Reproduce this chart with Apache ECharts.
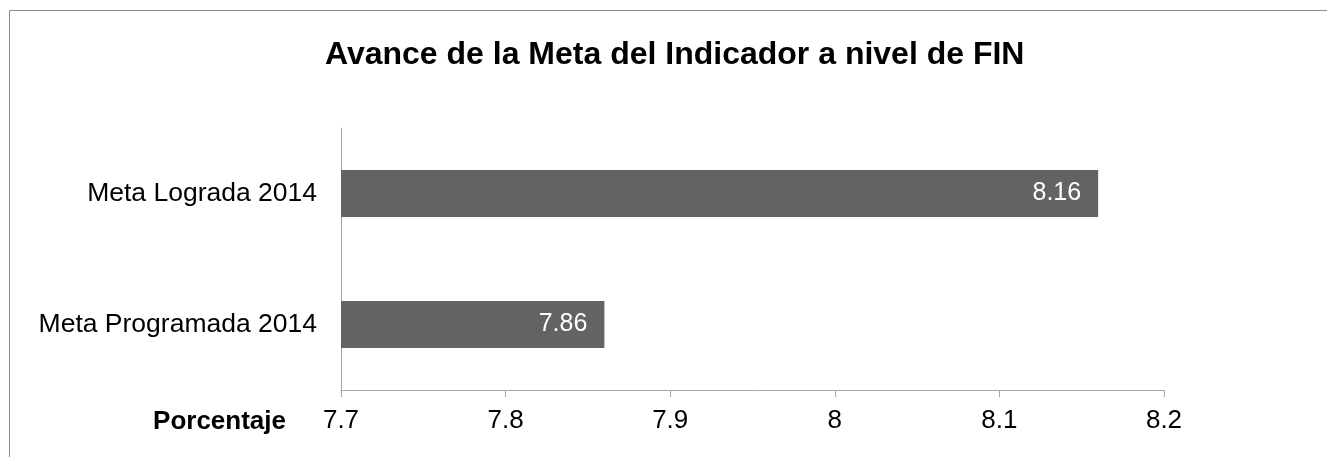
<!DOCTYPE html>
<html>
<head>
<meta charset="utf-8">
<script src="https://cdn.jsdelivr.net/npm/echarts@6/dist/echarts.min.js"></script>
<style>
  html, body { margin: 0; padding: 0; background: #fff; }
  #chart { width: 1327px; height: 457px; }
</style>
</head>
<body>
<div id="chart"></div>
<script>
  // categories bottom -> top
  const categories = ['Meta Programada 2014', 'Meta Lograda 2014']
  const values = [7.86, 8.16]
  const xTicks = { min: 7.7, max: 8.2, step: 0.1 }

  const font = "'Liberation Sans', Arial, sans-serif"
  const chart = echarts.init(document.getElementById('chart'))

  const option = {
    animation: false,
    title: {
      text: 'Avance de la Meta del Indicador a nivel de FIN',
      left: 320,
      top: 34,
      textStyle: { fontFamily: font, fontSize: 32, fontWeight: 'bold', color: '#000' }
    },
    graphic: [
      {
        type: 'polyline',
        shape: { points: [[9.5, 457], [9.5, 10.5], [1327, 10.5]] },
        style: { stroke: '#8c8c8c', lineWidth: 1, fill: null }
      }
    ],
    grid: { left: 341, right: 163, top: 128, bottom: 67 },
    xAxis: {
      type: 'value',
      min: xTicks.min,
      max: xTicks.max,
      interval: xTicks.step,
      name: 'Porcentaje',
      nameLocation: 'start',
      nameGap: 55,
      nameTextStyle: {
        fontFamily: font, fontSize: 26, fontWeight: 'bold', color: '#000',
        verticalAlign: 'top', align: 'right', padding: [19, 0, 0, 0]
      },
      axisLine: { show: true, lineStyle: { color: '#a6a6a6', width: 1 } },
      axisTick: { show: true, length: 7, lineStyle: { color: '#a6a6a6' } },
      axisLabel: { fontFamily: font, fontSize: 26, color: '#000', margin: 18 },
      splitLine: { show: false }
    },
    yAxis: {
      type: 'category',
      data: categories,
      axisLine: { show: true, lineStyle: { color: '#a6a6a6', width: 1 } },
      axisTick: { show: false },
      axisLabel: { fontFamily: font, fontSize: 26.5, color: '#000', margin: 24 }
    },
    series: [
      {
        type: 'bar',
        data: values,
        barWidth: 47,
        itemStyle: { color: '#636363' },
        label: {
          show: true,
          position: 'insideRight',
          distance: 17,
          fontFamily: font,
          fontSize: 25,
          color: '#fff'
        }
      }
    ]
  }
  chart.setOption(option)
</script>
</body>
</html>
